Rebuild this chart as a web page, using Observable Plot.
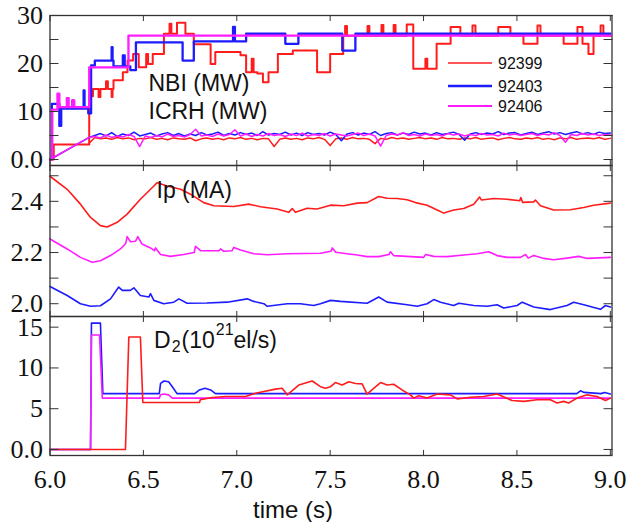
<!DOCTYPE html>
<html><head><meta charset="utf-8">
<script src="https://cdn.jsdelivr.net/npm/d3@7"></script>
<script src="https://cdn.jsdelivr.net/npm/@observablehq/plot@0.6"></script>
<style>
body{margin:0;background:#fff}
#chart{position:relative;width:636px;height:522px;overflow:hidden;background:#fff}
#chart svg{position:absolute;left:0;overflow:visible}
</style></head><body><div id="chart"></div>
<script>
// ---------- data ----------
const shots = ["92399", "92403", "92406"];
const colors = ["#ff1c1c", "#1c1cff", "#ff1cff"];
const xTicks = [6.0, 6.5, 7.0, 7.5, 8.0, 8.5, 9.0];

// panel 1: NBI (step) and ICRH (MW)
const nbiT_92399 = [6.00,6.02,6.21,6.23,6.26,6.27,6.30,6.31,6.33,6.335,6.34,6.39,6.415,6.445,6.475,6.515,6.525,6.55,6.61,6.64,6.65,6.68,6.725,6.77,6.86,6.885,7.02,7.05,7.08,7.09,7.11,7.14,7.17,7.22,7.30,7.43,7.50,7.57,7.58,7.59,7.70,7.71,7.775,7.785,7.84,7.85,7.91,7.945,8.01,8.02,8.07,8.145,8.197,8.262,8.278,8.40,8.465,8.535,8.61,8.626,8.75,8.824,8.851,8.883,8.91,8.948,8.963,9.0];
const nbiV_92399 = [0,3.1,13.2,14.7,13.0,14.7,16.3,14.7,13.0,14.7,16.5,18.2,20.6,22.0,19.2,22.0,19.9,22.0,26.2,28.3,26.2,28.5,26.2,24.0,19.9,22.4,21.7,18.2,21.0,18.2,17.9,16.1,18.2,22.0,22.7,18.2,22.0,25.8,27.8,25.8,27.8,25.8,28.0,25.8,28.0,25.8,28.1,18.9,21.0,18.9,24.1,27.6,25.8,27.9,25.8,27.6,25.8,24.1,27.9,25.8,24.1,27.6,24.1,22.0,25.8,27.9,25.8,25.8];
const nbiT_92403 = [6.00,6.01,6.05,6.06,6.12,6.125,6.18,6.185,6.205,6.22,6.24,6.33,6.335,6.34,6.39,6.40,6.43,6.46,6.71,6.77,6.98,6.99,7.05,7.26,7.33,7.565,7.635,9.0];
const nbiV_92403 = [0,11.6,7.0,10.6,12.3,10.6,14.4,10.6,9.6,19.6,20.6,23.4,20.6,19.4,21.7,19.4,18.6,24.4,20.6,24.6,27.6,24.6,26.2,24.1,26.2,22.7,26.2,26.2];
const nbiT_92406 = [6.00,6.012,6.04,6.05,6.09,6.10,6.12,6.13,6.21,6.42,9.0];
const nbiV_92406 = [0,10.4,13.7,10.9,12.8,10.9,12.3,10.9,19.2,25.8,25.8];

const icrhT = [6.21,6.24,6.27,6.30,6.33,6.36,6.39,6.42,6.45,6.48,
6.51,6.54,6.57,6.60,6.63,6.66,6.69,6.72,6.75,6.78,
6.81,6.84,6.87,6.90,6.93,6.96,6.99,7.02,7.05,7.08,
7.11,7.14,7.17,7.20,7.23,7.26,7.29,7.32,7.35,7.38,
7.41,7.44,7.47,7.50,7.53,7.56,7.59,7.62,7.65,7.68,
7.71,7.74,7.77,7.80,7.83,7.86,7.89,7.92,7.95,7.98,
8.01,8.04,8.07,8.10,8.13,8.16,8.19,8.22,8.25,8.28,
8.31,8.34,8.37,8.40,8.43,8.46,8.49,8.52,8.55,8.58,
8.61,8.64,8.67,8.70,8.73,8.76,8.79,8.82,8.85,8.88,
8.91,8.94,8.97,9.00];
const icrh_92399 = [3.4,4.6,4.3,4.5,4.2,4.6,4.3,4.5,4.1,4.4,
4.3,4.6,4.2,4.4,4.1,4.5,4.3,4.2,4.5,3.9,
4.3,4.5,4.2,4.4,4.1,4.5,4.3,4.6,4.2,4.4,
4.1,4.4,4.3,2.7,4.2,4.5,4.2,4.4,4.1,4.5,
4.3,4.6,4.2,2.9,4.3,4.5,4.2,4.6,4.3,4.4,
4.2,3.3,4.4,4.2,4.6,4.3,4.5,4.2,4.4,4.6,
4.3,4.5,4.2,4.6,4.3,4.4,4.2,4.5,4.3,4.6,
4.2,4.4,4.5,4.1,4.4,4.6,4.3,4.2,4.5,4.3,
4.6,4.2,4.4,4.1,4.5,4.3,4.6,4.2,4.4,4.5,
4.3,4.6,4.2,4.4];
const icrh_92403 = [4.6,5.0,5.4,4.9,5.6,4.8,5.3,5.0,5.7,4.9,
5.2,5.5,4.9,5.3,5.6,5.0,5.4,4.9,5.3,5.0,
5.6,5.1,5.3,5.7,5.0,5.4,5.1,5.6,5.2,5.5,
5.0,5.8,5.1,5.4,5.2,5.7,5.1,5.5,5.0,5.6,
5.2,5.4,5.1,5.7,5.2,3.9,5.3,5.6,5.1,5.5,
5.2,5.8,5.0,5.4,5.6,5.1,5.5,5.2,5.7,5.3,
5.5,5.1,5.6,5.2,5.4,5.7,5.2,4.0,5.3,5.6,
5.2,5.5,5.3,5.8,5.2,5.5,5.6,5.1,5.4,5.7,
5.2,5.5,5.8,5.3,5.6,5.2,5.5,5.8,5.3,5.6,
5.2,5.7,5.4,5.5];
const icrh_92406 = [4.6,4.8,4.5,5.1,4.6,4.9,4.7,5.2,4.8,2.7,
4.9,4.6,5.0,4.7,5.3,4.8,5.0,4.7,5.2,6.3,
4.9,5.1,4.8,5.3,4.9,5.2,6.2,4.9,5.3,4.8,
5.2,4.9,5.4,5.0,5.2,4.8,5.3,5.0,5.5,4.9,
5.2,5.0,5.4,4.9,5.3,5.1,4.9,5.2,5.5,5.0,
5.3,4.9,2.8,5.0,5.3,5.1,5.6,5.0,5.2,4.9,
5.3,5.0,5.2,4.9,5.4,5.1,5.3,4.9,5.2,5.0,
5.4,5.1,5.2,4.9,5.5,5.1,5.3,5.0,5.2,5.4,
5.0,5.3,5.1,5.6,5.0,3.6,5.2,5.0,5.4,5.1,
5.3,5.0,5.2,5.1];
const icrhStartT = 6.00, icrhStartV = 0; // ramp start for 92403 / 92406

// panel 2: Ip (MA)
const ipT_92399 = [6.000,6.092,6.163,6.217,6.270,6.306,6.360,6.413,6.484,6.556,6.574,6.627,6.699,6.752,6.823,6.877,6.984,7.064,7.127,7.216,7.278,7.297,7.314,7.377,7.430,7.502,7.573,7.645,7.698,7.760,7.805,7.859,7.912,7.957,8.019,8.073,8.108,8.162,8.215,8.269,8.300,8.310,8.376,8.447,8.515,8.521,8.530,8.590,8.599,8.626,8.697,8.786,8.858,8.911,9.000];
const ipV_92399 = [2.498,2.447,2.389,2.337,2.305,2.300,2.318,2.350,2.408,2.460,2.473,2.460,2.447,2.428,2.395,2.383,2.380,2.389,2.379,2.370,2.357,2.372,2.357,2.373,2.370,2.385,2.383,2.393,2.395,2.419,2.412,2.411,2.406,2.395,2.385,2.366,2.354,2.366,2.372,2.389,2.417,2.405,2.411,2.408,2.402,2.415,2.396,2.398,2.405,2.383,2.366,2.367,2.376,2.385,2.393];
const ipT_92403 = [6.000,6.092,6.163,6.217,6.270,6.324,6.368,6.387,6.430,6.449,6.484,6.529,6.538,6.556,6.609,6.663,6.690,6.734,6.840,6.949,7.056,7.091,7.145,7.163,7.270,7.340,7.412,7.448,7.502,7.555,7.698,7.760,7.805,7.912,7.966,8.019,8.055,8.091,8.162,8.189,8.269,8.340,8.394,8.429,8.501,8.528,8.590,8.679,8.768,8.804,8.858,8.947,8.974,9.000];
const ipV_92403 = [2.067,2.032,2.000,1.990,1.992,2.019,2.065,2.052,2.052,2.062,2.032,2.026,2.039,2.013,2.000,2.006,2.019,2.002,2.003,2.006,2.019,2.009,2.000,1.990,2.000,2.000,1.993,2.000,2.013,2.009,2.002,2.026,2.006,1.996,1.990,2.000,2.016,2.006,1.993,2.002,1.993,1.990,1.996,1.983,1.993,2.006,1.987,1.977,1.993,2.006,1.996,1.978,1.993,1.987];
const ipT_92406 = [6.000,6.092,6.163,6.226,6.270,6.324,6.377,6.405,6.413,6.431,6.458,6.470,6.493,6.538,6.559,6.565,6.592,6.645,6.716,6.772,6.779,6.806,6.905,6.913,6.930,6.975,6.984,7.020,7.091,7.163,7.270,7.448,7.505,7.511,7.530,7.590,7.645,7.698,7.760,7.815,7.823,7.840,8.001,8.010,8.055,8.127,8.215,8.287,8.349,8.394,8.447,8.519,8.546,8.560,8.590,8.644,8.697,8.768,8.831,8.876,9.000];
const ipV_92406 = [2.253,2.214,2.181,2.162,2.168,2.188,2.214,2.235,2.262,2.242,2.244,2.262,2.233,2.218,2.207,2.218,2.192,2.185,2.192,2.200,2.224,2.207,2.207,2.214,2.205,2.207,2.220,2.210,2.195,2.191,2.195,2.197,2.205,2.218,2.201,2.195,2.190,2.184,2.184,2.192,2.203,2.188,2.181,2.192,2.185,2.184,2.190,2.195,2.203,2.188,2.181,2.181,2.192,2.178,2.188,2.177,2.172,2.178,2.185,2.177,2.181];

// panel 3: D2 (10^21 el/s)
const d2T_92399 = [6.0,6.404,6.422,6.484,6.497,6.80,6.805,6.868,6.94,7.047,7.10,7.207,7.243,7.27,7.332,7.404,7.448,7.475,7.502,7.528,7.564,7.60,7.635,7.671,7.698,7.733,7.77,7.805,7.84,7.885,7.93,7.947,7.974,8.019,8.073,8.144,8.18,8.251,8.322,8.394,8.474,8.537,8.608,8.679,8.715,8.75,8.777,8.822,8.876,8.929,8.974,9.0];
const d2V_92399 = [0,0,13.8,13.8,5.76,5.76,6.1,6.37,6.5,6.5,6.9,7.4,7.5,6.7,7.9,8.4,7.7,7.5,7.7,8.2,7.9,8.3,8.1,8.05,6.8,7.5,8.2,7.9,8.0,7.3,6.7,6.3,6.6,6.3,6.8,6.7,6.2,6.4,6.5,6.8,6.0,5.9,6.1,6.1,5.7,5.9,5.7,6.3,6.7,6.5,6.0,6.3];
const d2T_92403 = [6.0,6.217,6.222,6.27,6.283,6.585,6.592,6.61,6.635,6.655,6.68,6.775,6.80,6.83,6.86,6.886,8.82,8.84,8.86,8.95,8.97,9.0];
const d2V_92403 = [0,0,15.5,15.5,6.85,6.85,8.1,8.4,8.3,7.7,6.85,6.85,7.3,7.5,7.3,6.85,6.85,7.2,7.0,6.85,7.0,6.8];
const d2T_92406 = [6.0,6.217,6.222,6.265,6.28,6.585,6.592,6.61,6.635,6.655,9.0];
const d2V_92406 = [0,0,14.05,14.05,6.3,6.3,6.7,6.8,6.7,6.3,6.3];

// ---------- helpers ----------
const rows = (ts, vs) => ts.map((t, i) => ({t, v: vs[i]}));
const W = 636, X0 = 49.5, X1 = 611.5;
const xDomain = [6, 9.009];
const SERIF = "Liberation Serif";
const SANS = "Liberation Sans";
const ink = "#333";
const blank = () => "";
const TICKFS = 26;

function frameMarks(yLabels, yMarks, fmt) {
  return [
    Plot.frame({stroke: ink, strokeWidth: 1.3}),
    Plot.axisY(yMarks, {anchor: "left", tickSize: -9, tickFormat: blank, label: null, stroke: ink}),
    Plot.axisY(yMarks, {anchor: "right", tickSize: -9, tickFormat: blank, label: null, stroke: ink}),
    Plot.axisX(xTicks, {anchor: "top", tickSize: -5, tickFormat: blank, label: null, stroke: ink}),
    Plot.axisX(xTicks, {anchor: "bottom", tickSize: -5, tickFormat: blank, label: null, stroke: ink}),
    Plot.axisY(yLabels, {anchor: "left", tickSize: 0, tickPadding: 7, tickFormat: fmt, label: null,
      fontSize: TICKFS, fontFamily: SERIF, fill: "#111"})
  ];
}
const note = (txt, dx, dy) => Plot.text([txt], {text: d => d, frameAnchor: "top-left", textAnchor: "start",
  lineAnchor: "bottom", dx, dy, fontSize: 23, fontFamily: SANS, fill: "#111"});
const zeroFmt = d => d === 0 ? "0.0" : String(d);
const line = (data, c, w, curve = "linear") => Plot.line(data, {x: "t", y: "v", stroke: c, strokeWidth: w, curve});
const baseStyle = {background: "transparent", overflow: "visible"};

const chart = document.getElementById("chart");
function place(svg, top) {
  svg.style.top = top + "px";
  svg.setAttribute("font-family", SERIF);
  d3.select(svg).selectAll("text").each(function() {
    const numeric = /^[0-9.]+$/.test(this.textContent.trim());
    const fam = numeric ? SERIF : SANS;
    this.setAttribute("font-family", fam);
    if (this.parentNode && this.parentNode.tagName === "g") this.parentNode.setAttribute("font-family", fam);
    this.style.setProperty("font-family", `"${fam}"`, "important");
  });
  chart.appendChild(svg);
}

// ---------- panel 1 ----------
const p1 = Plot.plot({
  width: W, height: 165, marginLeft: X0, marginRight: W - X1, marginTop: 15, marginBottom: 0,
  x: {domain: xDomain}, y: {domain: [-1.25, 30]},
  style: baseStyle,
  marks: [
    line(rows(nbiT_92399, nbiV_92399), colors[0], 2, "step-after"),
    line(rows(icrhT, icrh_92399), colors[0], 1.5),
    line(rows(nbiT_92403, nbiV_92403), colors[1], 2.3, "step-after"),
    line([{t: icrhStartT, v: icrhStartV}, ...rows(icrhT, icrh_92403)], colors[1], 1.5),
    line(rows(nbiT_92406, nbiV_92406), colors[2], 2.3, "step-after"),
    line([{t: icrhStartT, v: icrhStartV}, ...rows(icrhT, icrh_92406)], colors[2], 1.5),
    ...frameMarks([0, 10, 20, 30], [0, 5, 10, 15, 20, 25, 30], zeroFmt),
    note("NBI (MW)", 98.5, 75.5),
    note("ICRH (MW)", 98.5, 103.3)
  ]
});
place(p1, 0);

// ---------- panel 2 ----------
const p2 = Plot.plot({
  width: W, height: 151, marginLeft: X0, marginRight: W - X1, marginTop: 0, marginBottom: 0,
  x: {domain: xDomain}, y: {domain: [1.950, 2.540]},
  style: baseStyle,
  marks: [
    line(rows(ipT_92399, ipV_92399), colors[0], 1.6),
    line(rows(ipT_92406, ipV_92406), colors[2], 1.6),
    line(rows(ipT_92403, ipV_92403), colors[1], 1.6),
    ...frameMarks([2.0, 2.2, 2.4], [2.0, 2.1, 2.2, 2.3, 2.4, 2.5], d3.format(".1f")),
    note("Ip (MA)", 106.5, 32.3)
  ]
});
place(p2, 165);

// ---------- panel 3 ----------
const d2Label = "D\u2082(10\u00B2\u00B9el/s)";
const p3 = Plot.plot({
  width: W, height: 206, marginLeft: X0, marginRight: W - X1, marginTop: 0, marginBottom: 67,
  x: {domain: xDomain}, y: {domain: [-0.74, 16.31]},
  style: baseStyle,
  marks: [
    line(rows(d2T_92403, d2V_92403), colors[1], 1.6),
    line(rows(d2T_92406, d2V_92406), colors[2], 1.6),
    line(rows(d2T_92399, d2V_92399), colors[0], 1.6),
    ...frameMarks([0, 5, 10, 15], [0, 5, 10, 15], zeroFmt),
    Plot.axisX(xTicks, {anchor: "bottom", tickSize: 0, tickPadding: 14, tickFormat: d3.format(".1f"), label: null,
      fontSize: TICKFS, fontFamily: SERIF, fill: "#111"}),
    note(d2Label, 104, 31.7),
    Plot.text(["time (s)"], {text: d => d, frameAnchor: "bottom", lineAnchor: "bottom", dx: -38, dy: 62,
      fontSize: 24, fontFamily: SANS, fill: "#111"})
  ]
});
place(p3, 316);

// rebuild the D2 label with real sub/superscripts
d3.select(p3).selectAll("text").filter(function() { return this.textContent === d2Label; }).each(function() {
  const t = d3.select(this);
  t.text(null);
  t.append("tspan").text("D");
  t.append("tspan").attr("font-size", 16).attr("dy", 4).attr("dx", 1).text("2");
  t.append("tspan").attr("dy", -4).attr("dx", 1).text("(10");
  t.append("tspan").attr("font-size", 16).attr("dy", -13).attr("dx", 1).text("21");
  t.append("tspan").attr("dy", 13).text("el/s)");
});

// ---------- legend ----------
const leg = d3.select(chart).append("svg").attr("width", 200).attr("height", 70)
  .style("top", "48px").style("left", "440px");
const legY = [15, 38, 58], legW = [1.6, 2.6, 2.2];
shots.forEach((s, i) => {
  leg.append("line").attr("x1", 8).attr("x2", 52).attr("y1", legY[i]).attr("y2", legY[i])
    .attr("stroke", colors[i]).attr("stroke-width", legW[i]);
  leg.append("text").attr("x", 58).attr("y", legY[i]).attr("dy", "0.35em")
    .attr("font-family", SANS).attr("font-size", 16).attr("fill", "#111").text(s);
});
</script></body></html>
